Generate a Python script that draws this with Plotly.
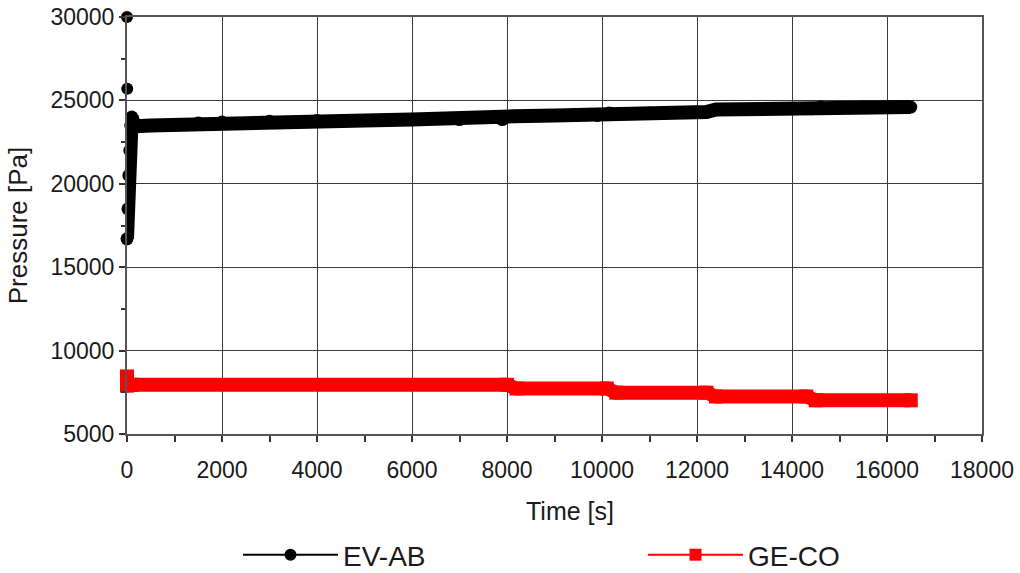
import plotly.graph_objects as go

# ---- data ----
ev_out_t = [0, 5]
ev_out_p = [30000, 25700]

ev_t = [0, 20, 40, 60, 80, 100, 150, 200, 500, 1000, 1500, 2000, 3000, 4000, 5000,
        6000, 7000, 7900, 8150, 9000, 9900, 10150, 11000, 12000, 12200, 12400, 13000,
        14000, 14400, 14600, 15500, 16500]
ev_p = [16700, 18500, 20500, 22000, 23500, 24000, 23500, 23450, 23500, 23550, 23650,
        23700, 23750, 23800, 23800, 23850, 23850, 23850, 24050, 24100, 24100, 24250,
        24250, 24300, 24300, 24450, 24450, 24500, 24500, 24600, 24600, 24600]

ge_t = [0, 0, 100, 8000, 8200, 10100, 10300, 12200, 12400, 14300, 14500, 16500]
ge_p = [8450, 7900, 7950, 7950, 7730, 7730, 7480, 7480, 7250, 7250, 7020, 7020]

series_names = ["EV-AB", "GE-CO"]
x_ticks = [0, 2000, 4000, 6000, 8000, 10000, 12000, 14000, 16000, 18000]
y_ticks = [5000, 10000, 15000, 20000, 25000, 30000]

FONT = "Liberation Sans, Arial, sans-serif"
TXT = "#1a1a1a"

fig = go.Figure()

# thick data bands
fig.add_trace(go.Scatter(x=ev_t, y=ev_p, mode="lines+markers", showlegend=False,
                         cliponaxis=False,
                         line=dict(color="black", width=14),
                         marker=dict(symbol="circle", size=13, color="black")))
fig.add_trace(go.Scatter(x=ev_out_t, y=ev_out_p, mode="markers", showlegend=False,
                         cliponaxis=False,
                         marker=dict(symbol="circle", size=12, color="black")))
fig.add_trace(go.Scatter(x=ge_t, y=ge_p, mode="lines+markers", showlegend=False,
                         cliponaxis=False,
                         line=dict(color="#ff0000", width=14),
                         marker=dict(symbol="square", size=14, color="#ff0000")))

# legend entries
fig.add_trace(go.Scatter(x=[None], y=[None], mode="lines+markers", name=series_names[0],
                         legend="legend",
                         line=dict(color="black", width=2),
                         marker=dict(symbol="circle", size=12, color="black")))
fig.add_trace(go.Scatter(x=[None], y=[None], mode="lines+markers", name=series_names[1],
                         legend="legend2",
                         line=dict(color="#ff0000", width=2),
                         marker=dict(symbol="square", size=12, color="#ff0000")))

leg_common = dict(orientation="h", xanchor="left", xref="container", yref="container",
                  y=1 - 555 / 573, yanchor="middle",
                  itemwidth=95, font=dict(size=28, family=FONT, color=TXT),
                  bgcolor="rgba(0,0,0,0)")

fig.update_layout(
    width=1020, height=573,
    margin=dict(l=127, r=38, t=17, b=139),
    paper_bgcolor="white", plot_bgcolor="white",
    font=dict(family=FONT, color=TXT, size=22),
    legend=dict(x=238 / 1020, **leg_common),
    legend2=dict(x=643 / 1020, **leg_common),
    annotations=[dict(text="Time [s]", xref="paper", yref="paper",
                      x=(570 - 127) / 855, y=-(511 - 434) / 417,
                      xanchor="center", yanchor="middle", showarrow=False,
                      font=dict(size=25, family=FONT, color=TXT))],
)

fig.update_xaxes(
    range=[0, 18000], tickvals=x_ticks, ticktext=[str(v) for v in x_ticks],
    showgrid=True, gridcolor="#3a3a3a", gridwidth=1,
    showline=True, linecolor="#555555", linewidth=2, mirror=True,
    ticks="outside", ticklen=6, tickcolor="#333333", tickwidth=1.5,
    minor=dict(dtick=1000, ticks="outside", ticklen=6, tickcolor="#333333", showgrid=False),
    zeroline=False, tickfont=dict(size=23), ticklabelstandoff=8, automargin=False,
)
fig.update_yaxes(
    range=[5000, 30000], tickvals=y_ticks, ticktext=[str(v) for v in y_ticks],
    showgrid=True, gridcolor="#3a3a3a", gridwidth=1,
    showline=True, linecolor="#555555", linewidth=2, mirror=True,
    ticks="outside", ticklen=6, tickcolor="#333333", tickwidth=1.5,
    minor=dict(dtick=2500, ticks="outside", ticklen=4, tickcolor="#333333", showgrid=False),
    zeroline=False, tickfont=dict(size=23), ticklabelstandoff=0, automargin=False,
    title=dict(text="Pressure [Pa]", font=dict(size=26), standoff=15),
)

# remove the browser's default 8px body margin so the figure sits at the page origin
fig.write_html("out.html", config={"displayModeBar": False},
               post_script="document.body.style.margin='0';")
